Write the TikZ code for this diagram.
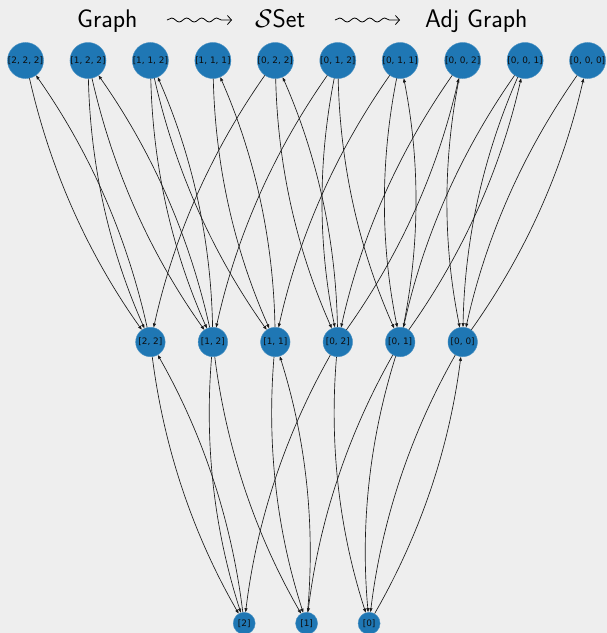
\documentclass[tikz,border=0pt]{standalone}
\usepackage{fix-cm}
\usepackage{fontspec}
\newfontfamily\labfont{DejaVu Sans}
\usetikzlibrary{arrows.meta,decorations.pathmorphing}
\definecolor{nxblue}{HTML}{1F77B4}
\definecolor{bgc}{HTML}{EEEEEE}
\begin{document}
\begin{tikzpicture}[x=1pt,y=-1pt,
  vtx/.style={circle,fill=nxblue,draw=nxblue!80!white,line width=0.4pt,inner sep=0pt,font=\labfont\fontsize{8.9}{9}\selectfont,text=black!95},
  top/.style={vtx,minimum size=36pt},
  mid/.style={vtx,minimum size=29.5pt},
  bot/.style={vtx,minimum size=22pt},
  edg/.style={draw=black!90,line width=0.65pt,-{Triangle[length=4pt,width=3pt]}},
  fb/.style={bend right=11.3,looseness=0.87},
  ttl/.style={anchor=base west,inner sep=0pt,font=\sffamily\fontsize{25.5}{30}\selectfont},
  squig/.style={decorate,decoration={snake,amplitude=2pt,segment length=15pt,post length=5pt},-{Straight Barb[length=4pt,width=9pt]},line width=0.8pt}
]
\fill[bgc] (0,0) rectangle (607,633);
\useasboundingbox (0,0) rectangle (607,633);
% title
\node[ttl] (tg) at (77,27) {Graph};
\node[ttl] (ts) at (255,27) {$\mathcal{S}$Set};
\node[ttl] (ta) at (425,27) {Adj Graph};
\coordinate (q1a) at (167,20);
\coordinate (q1b) at (232,20);
\coordinate (q2a) at (335,20);
\coordinate (q2b) at (400,20);
\draw[squig] (q1a) -- (q1b);
\draw[squig] (q2a) -- (q2b);
% top nodes
\node[top] (T222) at (25.5,60.5) {[2, 2, 2]};
\node[top] (T122) at (88,60.5) {[1, 2, 2]};
\node[top] (T112) at (150.4,60.5) {[1, 1, 2]};
\node[top] (T111) at (212.9,60.5) {[1, 1, 1]};
\node[top] (T022) at (275.3,60.5) {[0, 2, 2]};
\node[top] (T012) at (337.8,60.5) {[0, 1, 2]};
\node[top] (T011) at (400.2,60.5) {[0, 1, 1]};
\node[top] (T002) at (462.7,60.5) {[0, 0, 2]};
\node[top] (T001) at (525.1,60.5) {[0, 0, 1]};
\node[top] (T000) at (587.6,60.5) {[0, 0, 0]};
% middle nodes
\node[mid] (M22) at (150.4,342) {[2, 2]};
\node[mid] (M12) at (212.9,342) {[1, 2]};
\node[mid] (M11) at (275.3,342) {[1, 1]};
\node[mid] (M02) at (337.8,342) {[0, 2]};
\node[mid] (M01) at (400.2,342) {[0, 1]};
\node[mid] (M00) at (462.7,342) {[0, 0]};
% bottom nodes
\node[bot] (B2) at (244.2,623.3) {[2]};
\node[bot] (B1) at (306.6,623.3) {[1]};
\node[bot] (B0) at (369.1,623.3) {[0]};
% face maps
\foreach \a/\b in {T222/M22,T122/M22,T122/M12,T112/M12,T112/M11,T111/M11,
  T022/M22,T022/M02,T012/M12,T012/M02,T012/M01,T011/M11,T011/M01,
  T002/M02,T002/M00,T001/M01,T001/M00,T000/M00,
  M22/B2,M12/B2,M12/B1,M11/B1,M02/B2,M02/B0,M01/B1,M01/B0,M00/B0}
  \draw[edg] (\a) to[fb] (\b);
% degeneracies
\foreach \a/\b in {M22/T222,M12/T112,M12/T122,M11/T111,M02/T002,M02/T022,
  M01/T001,M01/T011,M00/T000,B2/M22,B1/M11,B0/M00}
  \draw[edg] (\a) to[fb] (\b);
\end{tikzpicture}
\end{document}
